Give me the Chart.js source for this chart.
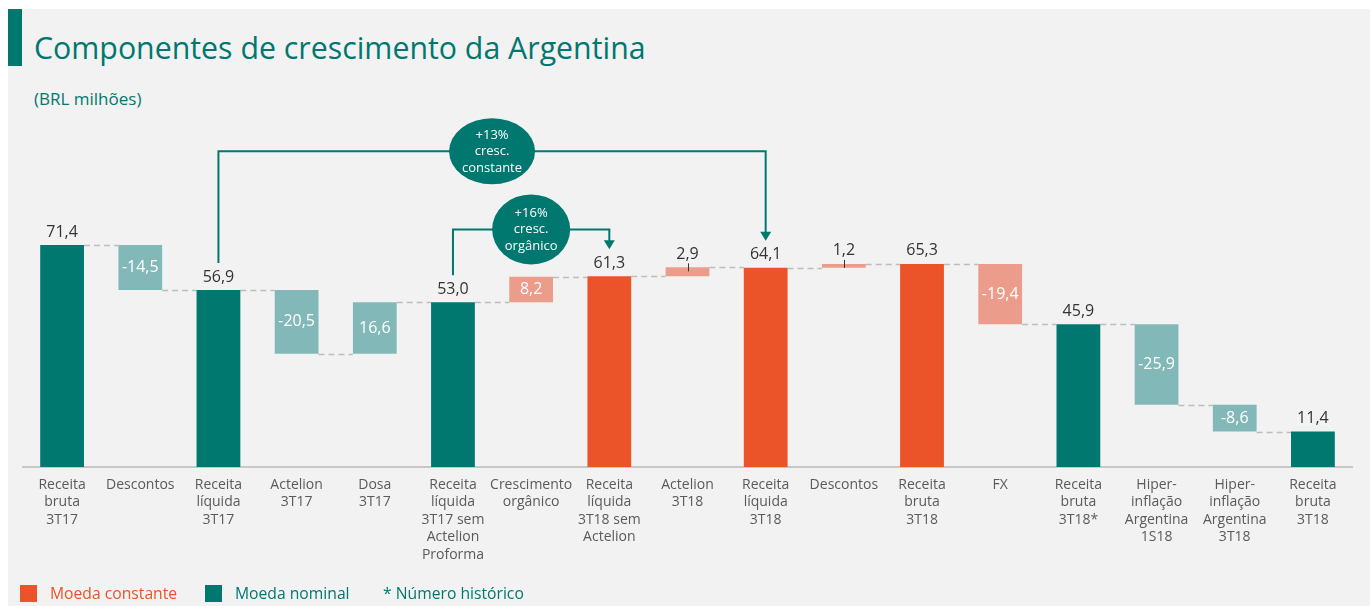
<!DOCTYPE html>
<html>
<head>
<meta charset="utf-8">
<script src="https://cdn.jsdelivr.net/npm/chart.js@4/dist/chart.umd.min.js"></script>
<style>
  body { margin: 0; background: #fff; font-family: "Open Sans", sans-serif; }
  #panel { position: absolute; left: 8px; top: 9px; width: 1362px; height: 597px; background: #f2f2f2; }
  #mark { position: absolute; left: 8px; top: 9px; width: 14px; height: 57px; background: #00776f; }
  #title { position: absolute; left: 34px; top: 27px; font-size: 30.3px; color: #00776f; white-space: nowrap; }
  #subtitle { position: absolute; left: 34px; top: 87px; font-size: 17px; color: #00776f; }
  #chart { position: absolute; left: 0; top: 0; }
  .legend { position: absolute; top: 582px; font-size: 15.7px; white-space: nowrap; }
  .legend i { display: inline-block; width: 17px; height: 17px; vertical-align: -3px; margin-right: 13px; }
</style>
</head>
<body>
<div id="panel"></div>
<div id="mark"></div>
<div id="title">Componentes de crescimento da Argentina</div>
<div id="subtitle">(BRL milhões)</div>
<canvas id="chart" width="1370" height="606"></canvas>
<div class="legend" style="left:20px;color:#eb5328"><i style="background:#eb5328"></i>Moeda constante</div>
<div class="legend" style="left:205px;color:#00776f"><i style="background:#00776f"></i>Moeda nominal</div>
<div class="legend" style="left:383px;color:#00776f">* Número histórico</div>
<script>
// Categories (multi-line tick labels)
const categories = [
  ['Receita', 'bruta', '3T17'],
  ['Descontos'],
  ['Receita', 'líquida', '3T17'],
  ['Actelion', '3T17'],
  ['Dosa', '3T17'],
  ['Receita', 'líquida', '3T17 sem', 'Actelion', 'Proforma'],
  ['Crescimento', 'orgânico'],
  ['Receita', 'líquida', '3T18 sem', 'Actelion'],
  ['Actelion', '3T18'],
  ['Receita', 'líquida', '3T18'],
  ['Descontos'],
  ['Receita', 'bruta', '3T18'],
  ['FX'],
  ['Receita', 'bruta', '3T18*'],
  ['Hiper-', 'inflação', 'Argentina', '1S18'],
  ['Hiper-', 'inflação', 'Argentina', '3T18'],
  ['Receita', 'bruta', '3T18']
];

// Values: totals are full bars, others are steps from the running total
const values  = [71.4, -14.5, 56.9, -20.5, 16.6, 53.0, 8.2, 61.3, 2.9, 64.1, 1.2, 65.3, -19.4, 45.9, -25.9, -8.6, 11.4];
const isTotal = [true, false, true, false, false, true, false, true, false, true, false, true, false, true, false, false, true];
// 'n' = moeda nominal, 'c' = moeda constante
const currency = ['n', 'n', 'n', 'n', 'n', 'n', 'c', 'c', 'c', 'c', 'c', 'c', 'c', 'n', 'n', 'n', 'n'];

// Growth brackets
const brackets = [
  { from: 2, to: 9, level: 101.5, lines: ['+13%', 'cresc.', 'constante'] },
  { from: 5, to: 7, level: 76.4, lines: ['+16%', 'cresc.', 'orgânico'] }
];

const COLORS = {
  n: { total: '#00776f', step: '#82b8b8' },
  c: { total: '#eb5328', step: '#eb9c8a' }
};
const FONT = '"Open Sans", sans-serif';

// build floating bars from the running total
let running = 0;
const ranges = values.map((v, i) => {
  if (isTotal[i]) { running = v; return [0, v]; }
  const r = [running, running + v];
  running += v;
  return r;
});
const levels = ranges.map((r, i) => isTotal[i] ? r[1] : r[0] + values[i]);
const fmt = v => v.toFixed(1).replace('.', ',');

const waterfallPlugin = {
  id: 'waterfall',
  beforeDatasetsDraw(chart) {
    const { ctx } = chart;
    const y = chart.scales.y;
    const bars = chart.getDatasetMeta(0).data;
    ctx.save();
    ctx.strokeStyle = '#bdbdbd';
    ctx.lineWidth = 1.5;
    ctx.setLineDash([6, 4]);
    for (let i = 0; i < bars.length - 1; i++) {
      const py = Math.round(y.getPixelForValue(levels[i])) + 0.5;
      ctx.beginPath();
      ctx.moveTo(bars[i].x + bars[i].width / 2, py);
      ctx.lineTo(bars[i + 1].x - bars[i + 1].width / 2, py);
      ctx.stroke();
    }
    ctx.restore();
  },
  afterDatasetsDraw(chart) {
    const { ctx } = chart;
    const bars = chart.getDatasetMeta(0).data;
    ctx.save();
    ctx.font = '16px ' + FONT;
    ctx.textAlign = 'center';
    ctx.textBaseline = 'middle';
    bars.forEach((b, i) => {
      const top = Math.min(b.y, b.base);
      const h = Math.abs(b.base - b.y);
      if (isTotal[i]) {
        ctx.fillStyle = '#333333';
        ctx.fillText(fmt(values[i]), b.x, top - 13);
      } else if (h < 20) {
        ctx.fillStyle = '#333333';
        ctx.fillText(fmt(values[i]), b.x, top - 13);
        ctx.strokeStyle = '#333333';
        ctx.lineWidth = 1;
        ctx.beginPath();
        ctx.moveTo(Math.round(b.x) + 0.5, top - 4);
        ctx.lineTo(Math.round(b.x) + 0.5, top + 4);
        ctx.stroke();
      } else {
        ctx.fillStyle = '#ffffff';
        ctx.fillText(fmt(values[i]), b.x, top + h / 2);
      }
    });

    // brackets with ellipses
    const y = chart.scales.y;
    brackets.forEach(br => {
      const a = bars[br.from], c = bars[br.to];
      const ly = y.getPixelForValue(br.level);
      const aTop = Math.min(a.y, a.base) - 27;
      const cTop = Math.min(c.y, c.base) - 27;
      ctx.strokeStyle = '#00776f';
      ctx.fillStyle = '#00776f';
      ctx.lineWidth = 2;
      ctx.beginPath();
      ctx.moveTo(a.x, aTop);
      ctx.lineTo(a.x, ly);
      ctx.lineTo(c.x, ly);
      ctx.lineTo(c.x, cTop - 8);
      ctx.stroke();
      ctx.beginPath();
      ctx.moveTo(c.x - 5.5, cTop - 9);
      ctx.lineTo(c.x + 5.5, cTop - 9);
      ctx.lineTo(c.x, cTop);
      ctx.closePath();
      ctx.fill();
      const cx = (a.x + c.x) / 2;
      const rx = br.to - br.from > 3 ? 43 : 39;
      const ry = br.to - br.from > 3 ? 33 : 35;
      ctx.beginPath();
      ctx.ellipse(cx, ly, rx, ry, 0, 0, Math.PI * 2);
      ctx.fill();
      ctx.fillStyle = '#ffffff';
      ctx.font = '13px ' + FONT;
      br.lines.forEach((t, k) => ctx.fillText(t, cx, ly + (k - 1) * 16.5));
    });
    ctx.restore();
  }
};

new Chart(document.getElementById('chart'), {
  type: 'bar',
  data: {
    labels: categories,
    datasets: [{
      data: ranges,
      backgroundColor: values.map((v, i) => COLORS[currency[i]][isTotal[i] ? 'total' : 'step']),
      borderWidth: 0,
      barPercentage: 0.56,
      categoryPercentage: 1
    }]
  },
  options: {
    responsive: false,
    animation: false,
    layout: { padding: { left: 23, right: 18, top: 156, bottom: 29 } },
    plugins: { legend: { display: false }, tooltip: { enabled: false } },
    scales: {
      x: {
        grid: { display: false },
        border: { color: '#c8c8c8', width: 2 },
        ticks: { color: '#5a5a5a', font: { family: FONT, size: 14, lineHeight: 1.25 }, padding: 1, autoSkip: false, maxRotation: 0 },
        afterFit(s) { s.height = 110; }
      },
      y: { display: false, min: 0, max: 100 }
    }
  },
  plugins: [waterfallPlugin]
});
</script>
</body>
</html>
